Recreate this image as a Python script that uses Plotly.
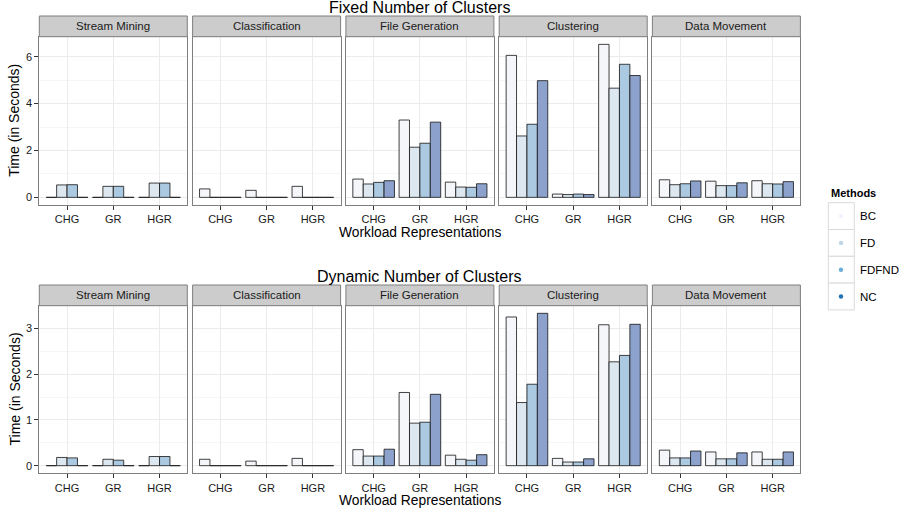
import plotly.graph_objects as go
from plotly.subplots import make_subplots

W, H = 899, 512

categories = ["CHG", "GR", "HGR"]
panels = ["Stream Mining", "Classification", "File Generation", "Clustering", "Data Movement"]
methods = ["BC", "FD", "FDFND", "NC"]

# values: 5 panels x 3 categories (CHG, GR, HGR), panel order as above
fixed_BC = [0, 0, 0, 0.36, 0.30, 0.47, 0.78, 3.30, 0.65, 6.06, 0.14, 6.53, 0.75, 0.69, 0.71]
fixed_FD = [0.53, 0.47, 0.61, 0, 0, 0, 0.57, 2.14, 0.44, 2.62, 0.12, 4.66, 0.54, 0.50, 0.58]
fixed_FDFND = [0.54, 0.47, 0.61, 0, 0, 0, 0.64, 2.31, 0.43, 3.12, 0.14, 5.68, 0.58, 0.50, 0.57]
fixed_NC = [0, 0, 0, 0, 0, 0, 0.71, 3.21, 0.58, 4.98, 0.12, 5.20, 0.70, 0.62, 0.67]

dynamic_BC = [0, 0, 0, 0.14, 0.10, 0.16, 0.35, 1.60, 0.23, 3.25, 0.16, 3.08, 0.34, 0.30, 0.30]
dynamic_FD = [0.18, 0.14, 0.20, 0, 0, 0, 0.21, 0.93, 0.14, 1.38, 0.08, 2.27, 0.17, 0.15, 0.14]
dynamic_FDFND = [0.17, 0.12, 0.20, 0, 0, 0, 0.21, 0.95, 0.12, 1.78, 0.08, 2.41, 0.17, 0.15, 0.14]
dynamic_NC = [0, 0, 0, 0, 0, 0, 0.36, 1.56, 0.24, 3.33, 0.15, 3.09, 0.32, 0.28, 0.30]

row_titles = ["Fixed Number of Clusters", "Dynamic Number of Clusters"]
y_dticks = [2, 1]

bar_colors = ["#f4f6fa", "#dce7f0", "#abc9e1", "#8ca2cc"]
key_colors = ["#eff3ff", "#bdd7e7", "#6baed6", "#2171b5"]

rows_data = [
    [fixed_BC, fixed_FD, fixed_FDFND, fixed_NC],
    [dynamic_BC, dynamic_FD, dynamic_FDFND, dynamic_NC],
]

FONT = "Liberation Sans, Arial, Helvetica, sans-serif"

# layout geometry (pixels)
col_x0 = [39.3, 192.6, 345.9, 499.2, 652.4]
panel_w = 148.0
row_plot = [(36.7, 205.0), (305.7, 473.3)]
row_strip = [(16.0, 36.7), (285.0, 305.7)]
title_y = [7, 276]
xtitle_y = [232.7, 500]


def px(x):
    return x / W


def py(y):
    return 1 - y / H


fig = make_subplots(rows=2, cols=5)

for r in range(2):
    data = rows_data[r]
    ymax = max(max(v) for v in data)
    yr = [-0.05 * ymax, 1.05 * ymax]
    for p in range(5):
        for m in range(4):
            fig.add_trace(
                go.Bar(
                    x=categories,
                    y=data[m][p * 3:(p + 1) * 3],
                    name=methods[m],
                    marker=dict(color=bar_colors[m],
                                line=dict(color="rgba(20,20,20,0.8)", width=1)),
                    showlegend=False,
                    hoverinfo="x+y+name",
                ),
                row=r + 1, col=p + 1,
            )
        idx = r * 5 + p + 1
        xa = "xaxis" if idx == 1 else f"xaxis{idx}"
        ya = "yaxis" if idx == 1 else f"yaxis{idx}"
        x0 = col_x0[p]
        fig.layout[xa].update(
            domain=[px(x0), px(x0 + panel_w)],
            type="category", range=[-0.6, 2.6],
            showgrid=True, gridcolor="#ebebeb", gridwidth=1,
            showline=True, linecolor="#7f7f7f", linewidth=1, mirror=True,
            ticks="outside", ticklen=4, tickcolor="#333333",
            tickfont=dict(family=FONT, size=11, color="#1a1a1a"),
            zeroline=False, fixedrange=True,
        )
        fig.layout[ya].update(
            domain=[py(row_plot[r][1]), py(row_plot[r][0])],
            range=yr, dtick=y_dticks[r],
            showgrid=True, gridcolor="#ebebeb", gridwidth=1,
            minor=dict(dtick=y_dticks[r] / 2, showgrid=True, gridcolor="#f6f6f6"),
            showline=True, linecolor="#7f7f7f", linewidth=1, mirror=True,
            ticks="outside" if p == 0 else "", ticklen=4, tickcolor="#333333",
            showticklabels=(p == 0),
            tickfont=dict(family=FONT, size=11, color="#1a1a1a"),
            zeroline=False, fixedrange=True,
        )
        # strip
        fig.add_shape(type="rect", xref="paper", yref="paper",
                      x0=px(x0), x1=px(x0 + panel_w),
                      y0=py(row_strip[r][1]), y1=py(row_strip[r][0]),
                      fillcolor="#cccccc", line=dict(color="#7f7f7f", width=1))
        fig.add_annotation(xref="paper", yref="paper",
                           x=px(x0 + panel_w / 2), y=py((row_strip[r][0] + row_strip[r][1]) / 2),
                           text=panels[p], showarrow=False,
                           font=dict(family=FONT, size=11.5, color="#1a1a1a"),
                           xanchor="center", yanchor="middle")

    center_x = px((col_x0[0] + col_x0[4] + panel_w) / 2)
    fig.add_annotation(xref="paper", yref="paper", x=center_x, y=py(title_y[r]),
                       text=row_titles[r], showarrow=False,
                       font=dict(family=FONT, size=16, color="#000000"),
                       xanchor="center", yanchor="middle")
    fig.add_annotation(xref="paper", yref="paper", x=center_x, y=py(xtitle_y[r]),
                       text="Workload Representations", showarrow=False,
                       font=dict(family=FONT, size=13.8, color="#000000"),
                       xanchor="center", yanchor="middle")
    fig.add_annotation(xref="paper", yref="paper", x=px(14),
                       y=py((row_plot[r][0] + row_plot[r][1]) / 2),
                       text="Time (in Seconds)", textangle=-90, showarrow=False,
                       font=dict(family=FONT, size=14, color="#000000"),
                       xanchor="center", yanchor="middle")

# legend
lx0, lx1 = 828.3, 854.3
ly0, kh = 202.7, 26.8
fig.add_annotation(xref="paper", yref="paper", x=px(828.5), y=py(193.3),
                   text="<b>Methods</b>", showarrow=False,
                   font=dict(family=FONT, size=11, color="#000000"),
                   xanchor="left", yanchor="middle")
for i, m in enumerate(methods):
    t = ly0 + i * kh
    fig.add_shape(type="rect", xref="paper", yref="paper",
                  x0=px(lx0), x1=px(lx1), y0=py(t + kh), y1=py(t),
                  fillcolor="#ffffff", line=dict(color="#d9d9d9", width=1))
    cx, cy = 841.0, t + kh / 2
    fig.add_shape(type="circle", xref="paper", yref="paper",
                  x0=px(cx - 2.2), x1=px(cx + 2.2), y0=py(cy + 2.2), y1=py(cy - 2.2),
                  fillcolor=key_colors[i], line=dict(width=0))
    fig.add_annotation(xref="paper", yref="paper", x=px(857.5), y=py(cy),
                       text=m, showarrow=False,
                       font=dict(family=FONT, size=11.5, color="#000000"),
                       xanchor="left", yanchor="middle")

fig.update_layout(
    width=W, height=H,
    margin=dict(l=0, r=0, t=0, b=0),
    paper_bgcolor="#ffffff", plot_bgcolor="#ffffff",
    barmode="group", bargap=0.1, bargroupgap=0,
    showlegend=False,
    font=dict(family=FONT),
)

fig.write_html("out.html",
               config={"displayModeBar": False},
               post_script="document.body.style.margin='0px';document.body.style.padding='0px';")
